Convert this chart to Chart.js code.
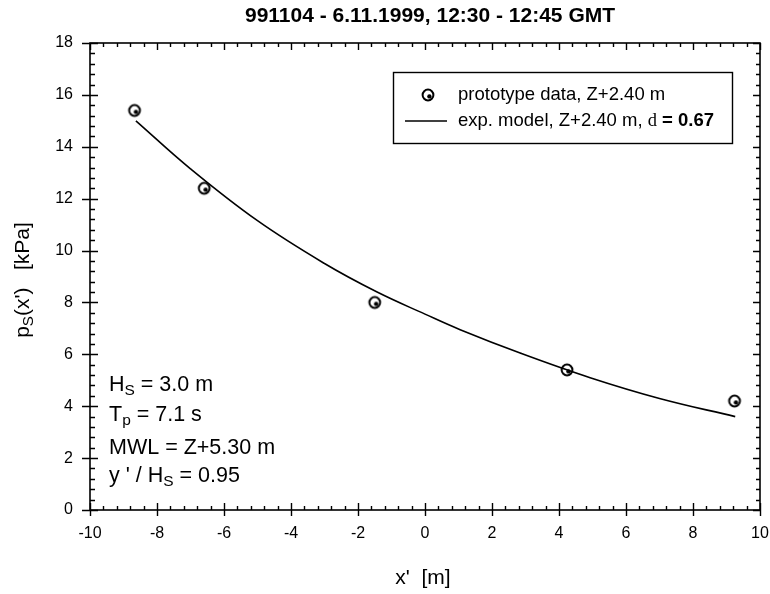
<!DOCTYPE html>
<html>
<head>
<meta charset="utf-8">
<script src="https://cdn.jsdelivr.net/npm/chart.js@4.4.0/dist/chart.umd.min.js"></script>
<style>
  html, body { margin: 0; padding: 0; background: #fff; }
  #wrap { width: 770px; height: 594px; }
</style>
</head>
<body>
<div id="wrap"><canvas id="chart" width="770" height="594"></canvas></div>
<script>
// prototype measurements
const xProto = [-8.67, -6.59, -1.50, 4.24, 9.24];
const yProto = [15.4, 12.4, 8.0, 5.4, 4.2];

// exp. model curve
const xModel = [-8.63, -7.0, -5.0, -3.0, -1.43, 0.0, 1.05, 2.84, 4.93, 7.0, 9.26];
const yModel = [15.0, 13.15, 11.15, 9.5, 8.4, 7.55, 6.95, 6.05, 5.1, 4.3, 3.6];

const xTicks = [-10, -8, -6, -4, -2, 0, 2, 4, 6, 8, 10];
const yTicks = [0, 2, 4, 6, 8, 10, 12, 14, 16, 18];

const FONT = "Arial, 'Liberation Sans', sans-serif";

// circle marker with a little filled spot in it
function makeMarker() {
  let c = document.createElement('canvas');
  c.width = 16; c.height = 16;
  let g = c.getContext('2d');
  g.strokeStyle = '#000';
  g.lineWidth = 2;
  g.beginPath();
  g.arc(8, 8, 5.4, 0, Math.PI * 2);
  g.stroke();
  g.fillStyle = '#000';
  g.beginPath();
  g.arc(9.4, 9.4, 2.2, 0, Math.PI * 2);
  g.fill();
  return c;
}
const marker = makeMarker();

// draw text with a subscript part: parts = [[text, isSub], ...]
function drawParts(ctx, x, y, parts, size) {
  let cx = x;
  parts.forEach(p => {
    let s = p[1] ? size * 0.72 : size;
    ctx.font = s + 'px ' + FONT;
    ctx.fillText(p[0], cx, p[1] ? y + size * 0.28 : y);
    cx += ctx.measureText(p[0]).width;
  });
  return cx - x;
}

const extras = {
  id: 'extras',
  afterDraw(chart) {
    const ctx = chart.ctx;
    const a = chart.chartArea;
    const xs = chart.scales.x, ys = chart.scales.y;
    ctx.save();
    ctx.strokeStyle = '#000';
    ctx.fillStyle = '#000';

    // frame
    ctx.lineWidth = 1.6;
    ctx.strokeRect(a.left, a.top, a.right - a.left, a.bottom - a.top);

    // ticks on all four sides
    ctx.lineWidth = 1.4;
    ctx.beginPath();
    for (let i = 0; i <= 50; i++) {
      let v = -10 + i * 0.4;
      let px = Math.round(xs.getPixelForValue(v)) + 0.5;
      let major = i % 5 === 0;
      if (major) {
        ctx.moveTo(px, a.bottom + 6); ctx.lineTo(px, a.bottom - 7);
        ctx.moveTo(px, a.top); ctx.lineTo(px, a.top + 7);
      } else {
        ctx.moveTo(px, a.bottom); ctx.lineTo(px, a.bottom - 4);
        ctx.moveTo(px, a.top); ctx.lineTo(px, a.top + 4);
      }
    }
    for (let i = 0; i <= 45; i++) {
      let v = i * 0.4;
      let py = Math.round(ys.getPixelForValue(v)) + 0.5;
      let major = i % 5 === 0;
      if (major) {
        ctx.moveTo(a.left - 8, py); ctx.lineTo(a.left + 8, py);
        ctx.moveTo(a.right, py); ctx.lineTo(a.right - 7, py);
      } else {
        ctx.moveTo(a.left, py); ctx.lineTo(a.left + 5, py);
        ctx.moveTo(a.right, py); ctx.lineTo(a.right - 4, py);
      }
    }
    ctx.stroke();

    // title
    ctx.textAlign = 'center';
    ctx.textBaseline = 'middle';
    ctx.font = 'bold 21px ' + FONT;
    ctx.fillText('991104 - 6.11.1999, 12:30 - 12:45 GMT', 430, 16);

    // axis titles
    ctx.font = '21px ' + FONT;
    ctx.fillText("x'  [m]", 423, 578);
    ctx.save();
    ctx.translate(23, 280);
    ctx.rotate(-Math.PI / 2);
    ctx.textAlign = 'left';
    let parts = [['p', false], ['S', true], ["(x')   [kPa]", false]];
    ctx.globalAlpha = 0;
    let w = drawParts(ctx, 0, 0, parts, 21);
    ctx.globalAlpha = 1;
    drawParts(ctx, -w / 2, 0, parts, 21);
    ctx.restore();

    // legend box
    ctx.lineWidth = 1.4;
    ctx.strokeRect(393.5, 72.5, 339, 71);
    ctx.drawImage(marker, 420, 87);
    ctx.lineWidth = 1.6;
    ctx.beginPath();
    ctx.moveTo(405, 121); ctx.lineTo(447, 121);
    ctx.stroke();
    ctx.textAlign = 'left';
    ctx.font = '18.5px ' + FONT;
    ctx.fillText('prototype data, Z+2.40 m', 458, 95);
    let t = 'exp. model, Z+2.40 m, ';
    ctx.fillText(t, 458, 121);
    let lx = 458 + ctx.measureText(t).width;
    ctx.font = "18.5px 'Liberation Serif', 'Times New Roman', serif";
    ctx.fillText('d', lx, 121);
    lx += ctx.measureText('d').width;
    ctx.font = 'bold 18.5px ' + FONT;
    ctx.fillText(' = 0.67', lx, 121);

    // wave conditions
    drawParts(ctx, 109, 385, [['H', false], ['S', true], [' = 3.0 m', false]], 21.5);
    drawParts(ctx, 109, 415, [['T', false], ['p', true], [' = 7.1 s', false]], 21.5);
    drawParts(ctx, 109, 448, [['MWL = Z+5.30 m', false]], 21.5);
    drawParts(ctx, 109, 476, [["y ' / H", false], ['S', true], [' = 0.95', false]], 21.5);

    ctx.restore();
  }
};

const ctx = document.getElementById('chart').getContext('2d');
const chart = new Chart(ctx, {
  type: 'scatter',
  data: {
    datasets: [{
      label: 'exp. model, Z+2.40 m',
      data: xModel.map((x, i) => ({ x: x, y: yModel[i] })),
      showLine: true,
      borderColor: '#000',
      borderWidth: 1.6,
      pointRadius: 0,
      tension: 0.4
    }, {
      label: 'prototype data, Z+2.40 m',
      data: xProto.map((x, i) => ({ x: x, y: yProto[i] })),
      showLine: false,
      pointStyle: marker,
      pointRadius: 6
    }]
  },
  options: {
    responsive: false,
    animation: false,
    layout: { padding: { top: 43, right: 10, left: 0, bottom: 0 } },
    plugins: {
      legend: { display: false },
      tooltip: { enabled: false }
    },
    scales: {
      x: {
        type: 'linear',
        min: -10, max: 10,
        afterBuildTicks: s => { s.ticks = xTicks.map(v => ({ value: v })); },
        afterFit: s => { s.height = 84; s.paddingLeft = 0; s.paddingRight = 0; },
        grid: { display: false, drawTicks: false },
        border: { display: false },
        ticks: { color: '#000', padding: 14, font: { size: 16, family: FONT } }
      },
      y: {
        type: 'linear',
        min: 0, max: 18,
        afterBuildTicks: s => { s.ticks = yTicks.map(v => ({ value: v })); },
        afterFit: s => { s.width = 90; s.paddingTop = 0; s.paddingBottom = 0; },
        grid: { display: false, drawTicks: false },
        border: { display: false },
        ticks: { color: '#000', padding: 17, font: { size: 16, family: FONT } }
      }
    }
  },
  plugins: [extras]
});
</script>
</body>
</html>
